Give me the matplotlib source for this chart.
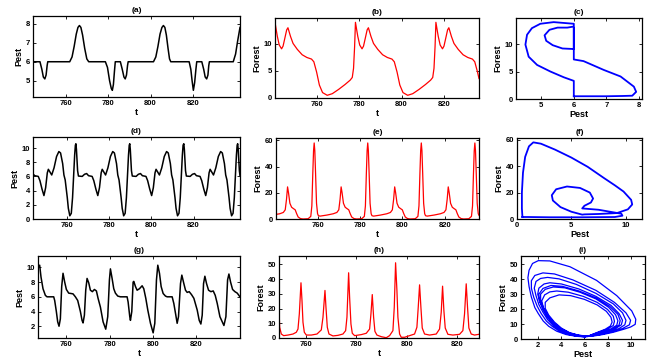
import numpy as np
import matplotlib
matplotlib.use("Agg")
import matplotlib.pyplot as plt

plt.rcParams['font.family'] = ['Liberation Sans', 'DejaVu Sans']
plt.rcParams['font.weight'] = 'bold'

# ---- (a) pest, first regime
ta = [744.3, 747.6, 748.5, 749.2, 749.9, 750.5, 751.0, 751.3,
      761.7, 762.8, 763.8, 764.8, 765.6, 766.3, 767.0, 767.8, 768.8, 769.8, 770.7,
      778.6, 779.6, 780.6, 781.4, 781.9, 782.4, 782.9, 783.3,
      785.7, 786.6, 787.4, 788.0, 788.6, 789.1, 789.4,
      801.4, 802.5, 803.5, 804.5, 805.4, 806.1, 806.8, 807.5, 808.3, 809.0, 809.6,
      818.3, 819.1, 819.7, 820.3, 820.9, 821.5, 821.9,
      824.3, 825.2, 825.9, 826.6, 827.2, 827.6, 827.9,
      839.2, 840.3, 841.3, 842.4]
pa = [6, 6, 5.6, 5.2, 5.1, 5.3, 5.8, 6,
      6, 6.25, 6.8, 7.45, 7.8, 7.9, 7.8, 7.4, 6.7, 6.15, 6,
      6, 5.7, 5.0, 4.6, 4.5, 4.8, 5.5, 6,
      6, 5.6, 5.2, 5.1, 5.3, 5.8, 6,
      6, 6.25, 6.8, 7.45, 7.8, 7.9, 7.8, 7.4, 6.7, 6.15, 6,
      6, 5.6, 5.0, 4.5, 4.9, 5.6, 6,
      6, 5.6, 5.2, 5.1, 5.3, 5.8, 6,
      6, 6.4, 7.1, 7.8]

# ---- (b) forest, first regime
tb = [740.4, 740.9, 741.5, 742.4, 743.5, 744.2, 745.0, 745.9, 746.5, 747.1, 747.7, 748.9, 750.9, 753.2,
      755.4, 757.6, 758.7, 760.0, 761.3, 762.8, 765.0, 767.4, 770.4, 773.4, 775.8, 776.8, 777.4, 777.9,
      778.3, 778.8, 779.4, 780.3, 781.4, 782.1, 782.9, 783.8, 784.4, 785.0, 785.6, 786.8, 788.8, 791.1,
      793.3, 795.5, 796.6, 797.9, 799.2, 800.7, 802.9, 805.3, 808.3, 811.3, 813.7, 814.7, 815.3, 815.8,
      816.2, 816.7, 817.3, 818.2, 819.3, 820.0, 820.8, 821.7, 822.3, 822.9, 823.5, 824.7, 826.7, 829.0,
      831.2, 833.4, 834.5, 835.8, 836.5]
fb = [14.0, 12.8, 11.4, 9.8, 9.1, 9.6, 11.0, 12.6, 13.0, 12.2, 11.4, 10.1, 9.0, 8.0,
      7.5, 7.2, 6.7, 4.8, 2.4, 1.0, 0.5, 0.8, 1.6, 2.5, 3.3, 3.8, 5.5, 9.5,
      14.0, 12.8, 11.4, 9.8, 9.1, 9.6, 11.0, 12.6, 13.0, 12.2, 11.4, 10.1, 9.0, 8.0,
      7.5, 7.2, 6.7, 4.8, 2.4, 1.0, 0.5, 0.8, 1.6, 2.5, 3.3, 3.8, 5.5, 9.5,
      14.0, 12.8, 11.4, 9.8, 9.1, 9.6, 11.0, 12.6, 13.0, 12.2, 11.4, 10.1, 9.0, 8.0,
      7.5, 7.2, 6.7, 4.8, 3.6]

# ---- (c) phase portrait, first regime
c_pest = [6.0, 6.0, 5.69, 5.28, 4.87, 4.61, 4.51, 4.56, 4.71, 4.97, 5.38, 5.79, 6.0,
          6.0, 5.8, 5.5, 5.25, 5.1, 5.15, 5.35, 5.65, 6.0,
          6.0, 6.0, 6.3, 6.92, 7.44, 7.85, 7.92, 7.8, 7.5, 7.0, 6.5, 6.0]
c_forest = [0.5, 3.3, 3.96, 5.0, 6.2, 7.7, 9.9, 11.7, 12.9, 13.7, 14.0, 13.8, 13.7,
            13.2, 13.0, 13.0, 12.6, 11.6, 10.6, 9.8, 9.2, 9.1,
            13.0, 7.2, 6.9, 5.3, 4.1, 2.25, 1.3, 0.6, 0.55, 0.5, 0.5, 0.5]

# ---- (d) pest, second regime
td = [743.7, 744.5, 746.2, 747.0, 748.0, 748.9, 749.7, 750.5, 751.0, 751.8, 752.6, 753.7, 754.9,
      756.0, 756.8, 757.8, 758.4, 759.0, 760.0, 760.5, 761.2, 761.9, 762.5, 763.0, 763.5, 763.85,
      764.1, 764.35, 764.6, 764.9, 765.3, 767.1, 768.2, 769.2, 770.1, 771.8, 772.6, 773.6, 774.5,
      775.3, 776.1, 776.6, 777.4, 778.2, 779.3, 780.5, 781.6, 782.4, 783.4, 784.0, 784.6, 785.6,
      786.1, 786.8, 787.5, 788.1, 788.6, 789.1, 789.45,
      789.7, 789.95, 790.2, 790.5, 790.9, 792.7, 793.8, 794.8, 795.7, 797.4, 798.2, 799.2, 800.1,
      800.9, 801.7, 802.2, 803.0, 803.8, 804.9, 806.1, 807.2, 808.0, 809.0, 809.6, 810.2, 811.2,
      811.7, 812.4, 813.1, 813.7, 814.2, 814.7, 815.05,
      815.4, 815.65, 815.9, 816.2, 816.6, 818.4, 819.5, 820.5, 821.4, 823.1, 823.9, 824.9, 825.8,
      826.6, 827.4, 827.9, 828.7, 829.5, 830.6, 831.8, 832.9, 833.7, 834.7, 835.3, 835.9, 836.9,
      837.4, 838.1, 838.8, 839.4, 839.9, 840.4, 840.75,
      841.0, 841.25, 841.5, 841.8, 842.1]
pd_ = [6.35, 6.1, 6.0, 5.4, 4.2, 3.3, 4.4, 6.5, 7.0, 6.6, 6.2, 7.2, 8.8,
       9.5, 9.3, 7.8, 6.2, 5.5, 3.0, 1.5, 0.45, 0.8, 3.0, 6.0, 9.0, 10.4,
       10.6, 9.8, 8.3, 6.8, 6.05, 6.0, 6.3, 6.4, 6.1, 6.0, 5.4, 4.2, 3.3,
       4.4, 6.5, 7.0, 6.6, 6.2, 7.2, 8.8, 9.5, 9.3, 7.8, 6.2, 5.5, 3.0,
       1.5, 0.45, 0.8, 3.0, 6.0, 9.0, 10.4,
       10.6, 9.8, 8.3, 6.8, 6.05, 6.0, 6.3, 6.4, 6.1, 6.0, 5.4, 4.2, 3.3,
       4.4, 6.5, 7.0, 6.6, 6.2, 7.2, 8.8, 9.5, 9.3, 7.8, 6.2, 5.5, 3.0,
       1.5, 0.45, 0.8, 3.0, 6.0, 9.0, 10.4,
       10.6, 9.8, 8.3, 6.8, 6.05, 6.0, 6.3, 6.4, 6.1, 6.0, 5.4, 4.2, 3.3,
       4.4, 6.5, 7.0, 6.6, 6.2, 7.2, 8.8, 9.5, 9.3, 7.8, 6.2, 5.5, 3.0,
       1.5, 0.45, 0.8, 3.0, 6.0, 9.0, 10.4,
       10.6, 9.8, 8.3, 6.8, 6.1]

# ---- (e) forest, second regime
te = [740.4, 742.15, 743.85, 744.75, 745.35, 745.85, 746.3, 746.95, 747.75, 748.55, 749.45, 750.15,
      750.85, 751.95, 753.15, 755.55,
      756.8, 757.3, 757.75, 758.1, 758.4, 758.7, 759.05, 759.5, 760.0, 760.4, 761.2, 764.4, 767.4,
      769.1, 770.0, 770.6, 771.1, 771.55, 772.2, 773.0, 773.8, 774.7, 775.4, 776.1, 777.2, 778.4, 780.8,
      782.05, 782.55, 783.0, 783.35, 783.65, 783.95, 784.3, 784.75, 785.25, 785.65, 786.45, 789.65, 792.65,
      794.35, 795.25, 795.85, 796.35, 796.8, 797.45, 798.25, 799.05, 799.95, 800.65, 801.35, 802.45, 803.65, 806.05,
      807.3, 807.8, 808.25, 808.6, 808.9, 809.2, 809.55, 810.0, 810.5, 810.9, 811.7, 814.9, 817.9,
      819.6, 820.5, 821.1, 821.6, 822.05, 822.7, 823.5, 824.3, 825.2, 825.9, 826.6, 827.7, 828.9, 831.3,
      832.55, 833.05, 833.5, 833.85, 834.15, 834.45, 834.8, 835.25, 835.75, 836.1]
fe = [3.5, 4.0, 5.0, 7.0, 15, 24.5, 20, 12, 9, 8, 7, 4,
      1.5, 0.3, 0.0, 0.2,
      2, 10, 35, 52, 58, 52, 35, 12, 4, 2.5, 2.2, 3.0, 4.0,
      5.0, 7.0, 15, 24.5, 20, 12, 9, 8, 7, 4, 1.5, 0.3, 0.0, 0.2,
      2, 10, 35, 52, 58, 52, 35, 12, 4, 2.5, 2.2, 3.0, 4.0,
      5.0, 7.0, 15, 24.5, 20, 12, 9, 8, 7, 4, 1.5, 0.3, 0.0, 0.2,
      2, 10, 35, 52, 58, 52, 35, 12, 4, 2.5, 2.2, 3.0, 4.0,
      5.0, 7.0, 15, 24.5, 20, 12, 9, 8, 7, 4, 1.5, 0.3, 0.0, 0.2,
      2, 10, 35, 52, 58, 52, 35, 12, 4, 2.8]

# ---- (f) phase portrait, second regime
f_pest = [0.5, 0.45, 0.45, 0.55, 0.75, 1.1, 1.5, 2.2, 3.5, 5.0, 6.5, 8.0, 9.0, 9.8, 10.5, 10.6,
          10.2, 9.2, 7.5, 6.2, 6.0,
          5.0, 4.0, 3.3, 3.2, 3.6, 4.6, 5.8, 6.7, 7.0, 6.8, 6.2, 6.0,
          7.5, 9.6, 9.7, 9.0, 6.0, 3.0, 1.0, 0.5]
f_forest = [1.5, 8, 20, 35, 47, 55, 58, 57, 52.5, 46.5, 39.5, 31, 25.5, 20.8, 14.5, 11,
            7.3, 4.5, 3.8, 3.5, 3.3,
            5.5, 9, 14, 18, 22.5, 24.6, 23.5, 20, 15.5, 12.5, 10, 8.0,
            7.0, 4.0, 2.5, 1.5, 1.3, 1.3, 1.5, 1.5]

# ---- (g) pest, chaotic regime
tg = [746.8, 747.57, 748.19, 749.12, 750.21, 750.98, 754.08, 754.54, 755.31, 755.93, 756.55, 757.17,
      757.79, 758.41, 759.18, 759.96, 761.04, 762.13, 763.05, 764.14, 765.22, 766.46, 767.23, 767.7,
      768.32, 768.94, 769.56, 770.33, 771.1, 772.03, 772.96, 773.89, 774.66, 775.75, 776.99, 778.22,
      779.15, 779.93, 780.39, 781.17, 781.94, 782.71, 783.8, 785.04, 788.13, 788.6, 789.37, 789.68,
      790.3, 790.92, 791.23, 792.0, 792.78, 793.86, 795.1, 795.87, 796.8, 797.73, 798.97, 800.21,
      800.98, 801.75, 802.37, 803.15, 803.92, 804.85, 805.93, 806.71, 809.03, 809.8, 810.73, 811.35,
      811.97, 812.9, 813.52, 814.45, 815.22, 816.0, 816.93, 818.01, 819.1, 820.65, 821.58, 822.35,
      822.97, 823.59, 824.21, 824.98, 825.91, 826.99, 828.08, 829.01, 829.94, 831.18, 833.04, 833.96,
      834.74, 835.36, 836.13, 837.06, 838.14, 839.23, 840.47]
pg = [10.0, 10.3, 8.7, 7.1, 6.2, 6.0, 6.0, 5.5, 4.0, 2.6, 2.0, 3.0,
      7.4, 9.2, 8.0, 7.0, 6.5, 6.45, 6.4, 6.0, 5.5, 4.0, 2.8, 2.45,
      3.5, 6.9, 8.5, 7.9, 6.9, 6.7, 7.0, 6.8, 5.8, 4.6, 2.6, 1.6,
      3.3, 8.3, 9.8, 8.5, 7.1, 6.5, 6.1, 6.0, 6.0, 5.3, 3.3, 2.8,
      4.0, 8.0, 8.1, 7.4, 6.9, 7.1, 7.5, 7.1, 5.8, 4.2, 2.4, 1.1,
      2.4, 8.3, 10.3, 9.2, 7.4, 6.45, 6.1, 6.0, 6.0, 5.1, 3.5, 2.4,
      3.3, 7.8, 8.95, 7.8, 6.9, 6.6, 6.7, 6.3, 5.8, 4.2, 2.8, 2.3,
      3.5, 7.8, 8.8, 7.8, 6.9, 6.7, 6.8, 6.2, 5.1, 3.3, 2.1, 3.3,
      8.3, 9.1, 8.0, 7.0, 6.7, 6.5, 6.0]

# ---- (h) forest, chaotic regime
th = [749.5, 749.76, 750.42, 751.34, 753.05, 755.03, 756.34, 757.0, 757.53, 758.18, 758.58, 758.97,
      759.5, 760.29, 762.26, 764.5, 766.21, 766.87, 767.66, 768.05, 768.58, 769.24, 770.82, 772.79,
      774.76, 775.82, 776.34, 777.0, 777.39, 777.92, 778.45, 779.37, 782.0, 783.97, 785.29, 785.82,
      786.34, 786.87, 787.39, 788.18, 789.89, 791.87, 793.18, 794.5, 795.03, 795.55, 796.08, 796.47,
      797.13, 797.79, 799.11, 801.08, 803.05, 803.97, 804.5, 805.03, 805.55, 806.08, 807.0, 808.97,
      811.61, 812.92, 813.58, 814.11, 814.63, 815.16, 816.21, 818.18, 820.82, 822.13, 822.79, 823.45,
      823.97, 824.5, 825.42, 826.74, 828.45]
fh = [20, 7.3, 2.7, 1.6, 2.0, 2.7, 3.9, 6.1, 16.4, 37.5, 25.5, 10.7,
      3.9, 2.0, 2.0, 2.7, 5.5, 14.1, 32.3, 20.9, 7.3, 2.7, 1.4, 1.8,
      2.7, 5.0, 14.1, 44.3, 27.7, 9.5, 3.2, 1.6, 2.3, 3.2, 6.1, 16.4,
      29.5, 14.1, 4.5, 2.0, 0.9, 0.2, 1.6, 5.0, 20.9, 51.1, 32.3, 14.1,
      2.7, 0.5, 0.5, 1.6, 2.7, 7.3, 20.9, 36.1, 20.9, 6.8, 2.7, 2.0,
      2.7, 6.1, 17.5, 35.2, 18.6, 6.8, 2.5, 2.0, 2.5, 5.0, 16.4, 36.8,
      20.9, 6.8, 2.7, 2.0, 2.5]

# ---- (i) phase portrait, chaotic regime (one row per loop)
i_pest = [6.05, 5.3, 4.4, 3.6, 2.9, 2.43, 2.0, 1.7, 1.4, 1.2, 1.1, 1.2, 1.5, 2.0, 3.0, 4.75, 7.05, 8.8, 9.7, 10.1, 10.45, 10.4, 10.0, 9.4, 8.5, 7.6, 6.8,
          6.1, 5.3, 4.5, 3.8, 3.2, 2.7, 2.25, 1.9, 1.6, 1.4, 1.4, 1.7, 2.4, 3.4, 5.0, 7.0, 8.6, 9.6, 10.0, 9.9, 9.3, 8.4, 7.4, 6.5,
          6.2, 5.3, 4.6, 3.9, 3.3, 2.8, 2.4, 2.05, 1.8, 1.65, 1.8, 2.2, 2.8, 3.8, 5.3, 7.0, 8.5, 9.3, 9.6, 9.5, 9.0, 8.2, 7.3, 6.6,
          6.3, 5.4, 4.7, 4.0, 3.4, 2.9, 2.5, 2.15, 1.95, 2.05, 2.5, 3.0, 4.0, 5.5, 7.0, 8.3, 9.0, 9.3, 9.2, 8.7, 8.0, 7.2, 6.6,
          6.0, 5.2, 4.5, 3.8, 3.3, 2.8, 2.4, 2.1, 2.05, 2.4, 3.1, 4.1, 5.5, 7.0, 8.2, 8.9, 9.1, 9.0, 8.5, 7.8, 7.0, 6.4,
          6.4, 5.5, 4.7, 4.0, 3.4, 2.9, 2.5, 2.2, 2.2, 2.6, 3.3, 4.3, 5.6, 7.0, 8.1, 8.7, 8.9, 8.8, 8.3, 7.6, 6.9,
          6.1, 5.3, 4.6, 3.9, 3.3, 2.8, 2.45, 2.3, 2.55, 3.0, 3.6, 4.6, 5.9, 7.1, 8.0, 8.5, 8.6, 8.5, 8.0, 7.3, 6.6,
          6.3, 5.5, 4.7, 4.0, 3.4, 2.9, 2.6, 2.6, 3.0, 3.8, 4.8, 6.0, 7.1, 7.9, 8.3, 8.4, 8.25, 7.8, 7.1, 6.6, 6.3]
i_forest = [1.4, 1.8, 3.0, 5.2, 8.5, 12, 17, 21, 28, 35, 41, 46, 50.5, 52.4, 52.2, 48.3, 39.2, 29, 22, 18.8, 13.2, 9.8, 8.0, 6.5, 4.5, 3.0, 2.0,
            1.6, 2.0, 3.2, 5.4, 8.5, 12, 17, 22, 28, 34, 39, 42.5, 44.2, 43.5, 39.5, 32.5, 24.5, 17.5, 12.5, 9.5, 7.0, 4.8, 3.0, 2.0,
            1.7, 2.2, 3.5, 5.8, 9, 13, 18, 23, 29, 34, 38.5, 40.5, 41.2, 40.2, 36.5, 30.5, 23.5, 17.5, 12.5, 9.5, 7.0, 4.8, 3.0, 2.1,
            1.8, 2.4, 3.8, 6.2, 9.5, 14, 19, 24.5, 30, 34, 36.8, 37.6, 36.8, 33.5, 28.5, 22.5, 17, 12.5, 9.5, 7.0, 5.0, 3.2, 2.2,
            1.5, 2.1, 3.6, 6.3, 10, 14.5, 20, 25.5, 30, 33.8, 35.8, 35.2, 32.2, 27.5, 21.8, 16.5, 12.3, 9.3, 6.8, 4.8, 3.0, 2.0,
            1.9, 2.5, 4.0, 6.8, 10.5, 15, 20, 25.5, 30, 33.2, 34.8, 34.2, 31.3, 26.8, 21.2, 16.2, 12.2, 9.2, 6.8, 4.8, 3.2,
            1.6, 2.3, 4.0, 7.0, 11, 15.5, 20.5, 25.5, 29.5, 31.5, 32.1, 31.3, 28.5, 24.5, 19.8, 15.3, 11.8, 9.0, 6.7, 4.6, 2.8,
            1.7, 2.5, 4.3, 7.3, 11.3, 16, 20.5, 24.5, 27.5, 29.5, 29.0, 26.5, 22.8, 18.5, 14.5, 11.3, 8.7, 6.5, 4.4, 2.8, 1.7]

W, H = 657, 363
fig = plt.figure(figsize=(W / 100, H / 100), dpi=100)


def box(l, r, t, b):
    return fig.add_axes([l / W, 1 - b / H, (r - l) / W, (b - t) / H])


def style(ax, title, xlab, ylab):
    ax.set_title(title, fontsize=6, pad=3, fontweight='bold')
    ax.set_xlabel(xlab, fontsize=6.5, labelpad=1, fontweight='bold')
    ax.set_ylabel(ylab, fontsize=6.5, labelpad=2, fontweight='bold')
    ax.tick_params(direction='in', top=True, right=True, length=2.5, width=0.6,
                   labelsize=5.5, pad=2)
    for s in ax.spines.values():
        s.set_linewidth(0.9)


ax = box(33, 240, 16, 97)
ax.plot(ta, pa, color='black', lw=1.1)
ax.set_xlim(744.3, 842.4); ax.set_ylim(4.15, 8.4)
ax.set_xticks([760, 780, 800, 820]); ax.set_yticks([5, 6, 7, 8])
style(ax, '(a)', 't', 'Pest')

ax = box(275, 479, 18, 98)
ax.plot(tb, fb, color='red', lw=0.9)
ax.set_xlim(740.4, 836.5); ax.set_ylim(0, 14.8)
ax.set_xticks([760, 780, 800, 820]); ax.set_yticks([0, 5, 10])
style(ax, '(b)', 't', 'Forest')

ax = box(516, 642, 18, 99)
ax.plot(c_pest, c_forest, color='blue', lw=1.3)
ax.set_xlim(4.22, 8.1); ax.set_ylim(0, 14.75)
ax.set_xticks([5, 6, 7, 8]); ax.set_yticks([0, 5, 10])
style(ax, '(c)', 'Pest', 'Forest')

ax = box(33, 240, 137, 219)
ax.plot(td, pd_, color='black', lw=1.1)
ax.set_xlim(743.7, 842.1); ax.set_ylim(0, 11.55)
ax.set_xticks([760, 780, 800, 820]); ax.set_yticks([0, 2, 4, 6, 8, 10])
style(ax, '(d)', 't', 'Pest')

ax = box(276, 479, 138, 219)
ax.plot(te, fe, color='red', lw=0.9)
ax.set_xlim(740.4, 836.1); ax.set_ylim(0, 61.8)
ax.set_xticks([760, 780, 800, 820]); ax.set_yticks([0, 20, 40, 60])
style(ax, '(e)', 't', 'Forest')

ax = box(517, 642, 138, 219)
ax.plot(f_pest, f_forest, color='blue', lw=1.3)
ax.set_xlim(0, 11.5); ax.set_ylim(0, 61.3)
ax.set_xticks([0, 5, 10]); ax.set_yticks([0, 20, 40, 60])
style(ax, '(f)', 'Pest', 'Forest')

ax = box(38, 240, 256, 338)
ax.plot(tg, pg, color='black', lw=1.1)
ax.set_xlim(746.8, 840.5); ax.set_ylim(0.4, 11.55)
ax.set_xticks([760, 780, 800, 820]); ax.set_yticks([2, 4, 6, 8, 10])
style(ax, '(g)', 't', 'Pest')

ax = box(279, 479, 256, 338)
ax.plot(th, fh, color='red', lw=0.9)
ax.set_xlim(749.5, 828.5); ax.set_ylim(0, 55.7)
ax.set_xticks([760, 780, 800, 820]); ax.set_yticks([0, 10, 20, 30, 40, 50])
style(ax, '(h)', 't', 'Forest')

ax = box(521, 645, 256, 339)
ax.plot(i_pest, i_forest, color='blue', lw=0.9)
ax.set_xlim(0.5, 11.25); ax.set_ylim(0, 55.5)
ax.set_xticks([2, 4, 6, 8, 10]); ax.set_yticks([0, 10, 20, 30, 40, 50])
style(ax, '(i)', 'Pest', 'Forest')

fig.savefig('out.png', dpi=100)
